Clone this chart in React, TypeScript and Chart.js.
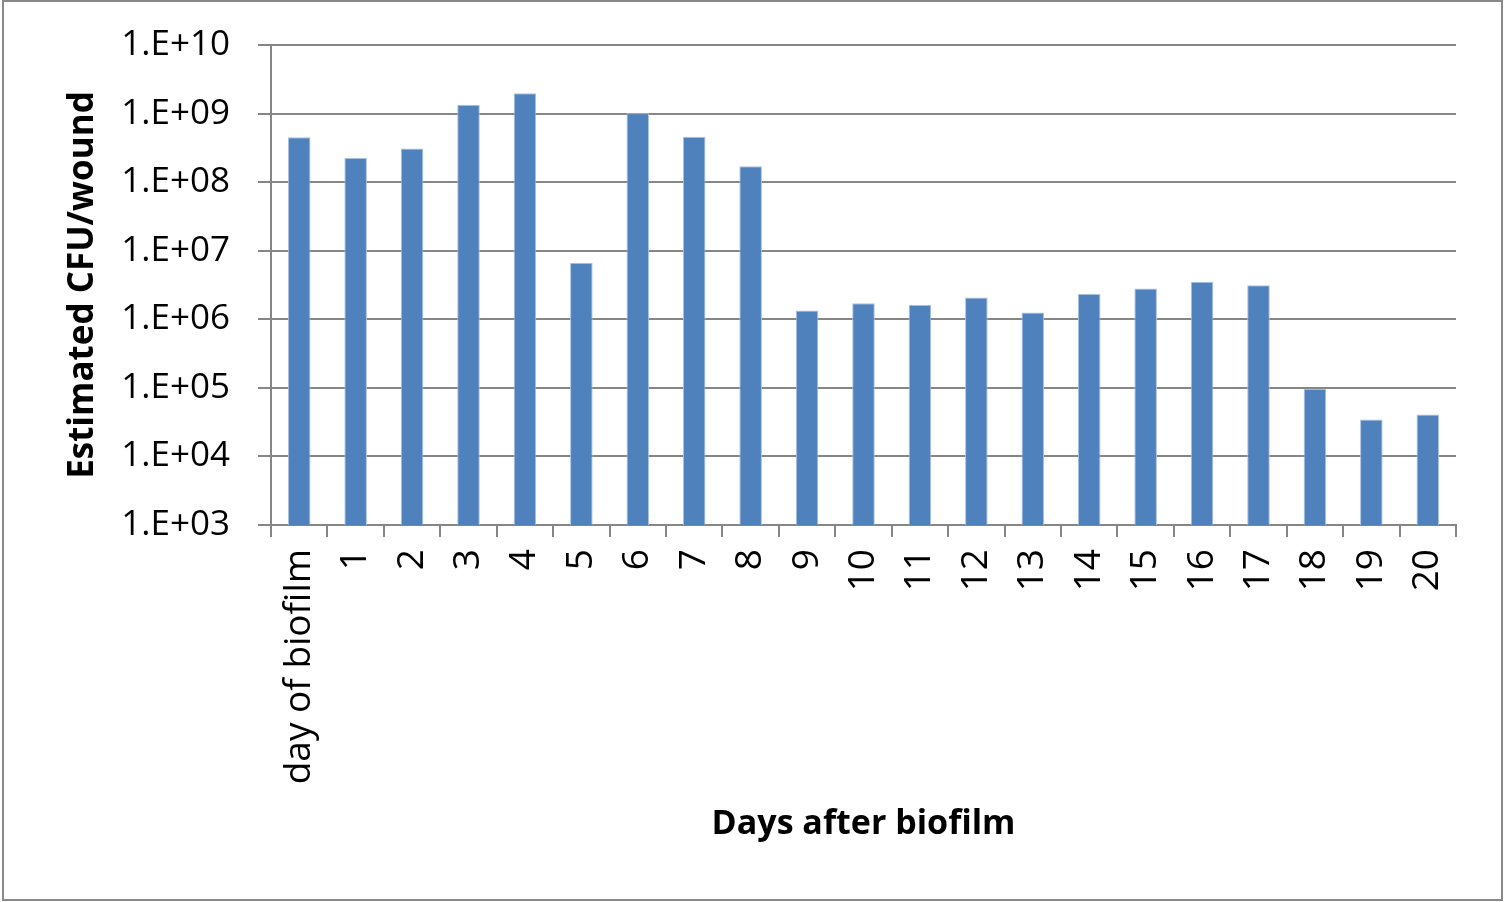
import React, { useEffect, useRef } from "react";
import { Chart, registerables } from "chart.js";

Chart.register(...registerables);

const categories: string[] = [
  "day of biofilm", "1", "2", "3", "4", "5", "6", "7", "8", "9", "10",
  "11", "12", "13", "14", "15", "16", "17", "18", "19", "20",
];

const cfuPerWound: number[] = [
  4.5e8, 2.25e8, 3.1e8, 1.34e9, 1.98e9, 6.7e6, 1.01e9, 4.6e8, 1.7e8,
  1.34e6, 1.71e6, 1.62e6, 2.07e6, 1.26e6, 2.33e6, 2.8e6, 3.54e6, 3.13e6,
  9.7e4, 3.46e4, 4.08e4,
];

const yTickValues: number[] = [1e3, 1e4, 1e5, 1e6, 1e7, 1e8, 1e9, 1e10];

const xTitle = "Days after biofilm";
const yTitle = "Estimated CFU/wound";

const FONT = "'Open Sans', 'Liberation Sans', sans-serif";
const GRID = "#868686";

export default function App() {
  const ref = useRef<HTMLCanvasElement | null>(null);

  useEffect(() => {
    document.body.style.margin = "0";
    const canvas = ref.current;
    if (!canvas) return;
    const chart = new Chart(canvas, {
      type: "bar",
      data: {
        labels: categories,
        datasets: [
          {
            data: cfuPerWound,
            backgroundColor: "#4F81BD",
            borderColor: "#A9C2E0",
            borderWidth: 1,
            barPercentage: 0.4,
            categoryPercentage: 1,
          },
        ],
      },
      options: {
        animation: false,
        responsive: false,
        maintainAspectRatio: false,
        color: "#000",
        layout: { padding: { top: 45, right: 48, bottom: 0, left: 0 } },
        plugins: {
          legend: { display: false },
          tooltip: { enabled: false },
        },
        scales: {
          x: {
            type: "category",
            grid: {
              display: true,
              drawOnChartArea: false,
              drawTicks: true,
              tickLength: 12,
              color: GRID,
              lineWidth: 2,
              offset: true,
            },
            border: { display: true, color: GRID, width: 2 },
            ticks: {
              minRotation: 90,
              maxRotation: 90,
              autoSkip: false,
              padding: 12,
              color: "#000",
              font: { family: FONT, size: 37 },
            },
            title: {
              display: true,
              text: xTitle,
              color: "#000",
              font: { family: FONT, size: 34, weight: "bold" },
              padding: { top: 0, bottom: 57 },
            },
            afterFit: (scale: any) => {
              scale.height = 377;
              scale.paddingLeft = 0;
              scale.paddingRight = 0;
            },
          },
          y: {
            type: "logarithmic",
            min: 1e3,
            max: 1e10,
            grid: {
              color: GRID,
              lineWidth: 2,
              tickLength: 13,
              drawTicks: true,
            },
            border: { display: true, color: GRID, width: 2 },
            afterBuildTicks: (scale: any) => {
              scale.ticks = yTickValues.map((v) => ({ value: v, major: true }));
            },
            ticks: {
              padding: 28,
              color: "#000",
              font: { family: FONT, size: 35 },
              callback: (v: any) =>
                "1.E+" + String(Math.round(Math.log10(Number(v)))).padStart(2, "0"),
            },
            title: {
              display: true,
              text: yTitle,
              color: "#000",
              font: { family: FONT, size: 35, weight: "bold" },
              padding: { top: 62, bottom: 0 },
            },
            afterFit: (scale: any) => {
              scale.width = 271;
              scale.paddingTop = 0;
              scale.paddingBottom = 0;
            },
          },
        },
      },
    });
    return () => chart.destroy();
  }, []);

  return (
    <div style={{ position: "absolute", left: 0, top: 0, width: 1504, height: 902, background: "#fff" }}>
      <canvas ref={ref} width={1504} height={902} style={{ position: "absolute", left: 0, top: 0, width: 1504, height: 902 }} />
      <div
        style={{
          position: "absolute",
          left: 2,
          top: 0,
          width: 1501,
          height: 901,
          border: "2px solid #898989",
          boxSizing: "border-box",
          pointerEvents: "none",
        }}
      />
    </div>
  );
}
